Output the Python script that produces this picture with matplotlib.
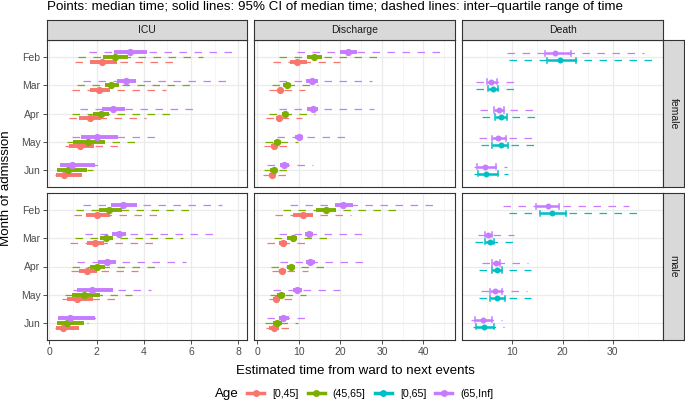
import matplotlib
matplotlib.use("Agg")
import matplotlib.pyplot as plt
from matplotlib.lines import Line2D

plt.rcParams["font.family"] = ["Liberation Sans", "DejaVu Sans"]

months = ["Feb", "Mar", "Apr", "May", "Jun"]
events = ["ICU", "Discharge", "Death"]
sexes = ["female", "male"]
age_groups = ["[0,45]", "(45,65]", "[0,65]", "(65,Inf]"]
age_colors = ["#F8766D", "#7CAE00", "#00BFC4", "#C77CFF"]

# rows per month: (median, ci_lo, ci_hi, q1, q3)
icu_female = {
    "[0,45]": [(2.21, 1.72, 2.85, 1.09, 5.22), (2.12, 1.72, 2.57, 0.95, 4.96), (1.73, 1.27, 2.17, 0.85, 4.09),
               (1.30, 0.85, 1.89, 0.66, 3.06), (0.62, 0.28, 1.37, 0.24, 1.44)],
    "(45,65]": [(2.78, 2.26, 3.34, 1.23, 6.52), (2.62, 2.36, 2.96, 1.18, 6.19), (2.17, 1.86, 2.54, 0.97, 5.11),
                (1.62, 1.02, 2.36, 0.73, 3.81), (0.79, 0.34, 1.58, 0.34, 1.83)],
    "(65,Inf]": [(3.41, 2.74, 4.15, 1.69, 8.04), (3.24, 2.88, 3.67, 1.44, 7.64), (2.68, 2.21, 3.20, 1.30, 6.30),
                 (2.00, 1.33, 2.92, 0.97, 4.68), (0.96, 0.45, 1.93, 0.45, 2.26)],
}
discharge_female = {
    "[0,45]": [(9.5, 7.9, 11.9, 3.7, 19.8), (5.5, 5.1, 6.1, 2.7, 11.5), (5.1, 4.5, 5.9, 2.1, 10.7),
               (3.9, 3.2, 4.7, 1.6, 7.9), (3.6, 2.9, 4.3, 1.4, 7.5)],
    "(45,65]": [(13.7, 12.0, 15.5, 5.3, 28.8), (7.1, 6.3, 8.0, 3.5, 14.7), (6.7, 5.9, 7.5, 2.7, 13.9),
                (4.8, 4.0, 5.6, 1.8, 9.9), (3.9, 3.1, 4.8, 1.6, 8.3)],
    "(65,Inf]": [(21.9, 19.8, 24.1, 9.5, 45.6), (13.2, 11.7, 14.7, 5.3, 27.6), (13.5, 12.0, 14.7, 5.3, 28.1),
                 (10.1, 9.1, 11.1, 4.8, 21.1), (6.5, 5.5, 7.7, 2.4, 13.5)],
}
death_female = {
    "[0,65]": [(19.6, 17.0, 22.7, 9.3, 38.1), (6.1, 5.2, 7.1, 2.7, 11.8), (7.7, 6.6, 8.9, 3.9, 15.1),
               (7.7, 6.0, 9.1, 3.8, 15.0), (4.7, 3.1, 7.1, 2.3, 9.2)],
    "(65,Inf]": [(18.6, 16.5, 21.7, 8.9, 36.3), (5.8, 4.9, 6.9, 2.7, 11.2), (7.4, 6.4, 8.4, 3.6, 14.4),
                 (7.2, 5.9, 8.7, 3.4, 14.2), (4.5, 2.9, 6.7, 2.3, 8.9)],
}
icu_male = {
    "[0,45]": [(2.03, 1.55, 2.57, 1.06, 4.75), (1.93, 1.58, 2.31, 0.87, 4.54), (1.58, 1.27, 2.00, 0.90, 3.77),
               (1.18, 0.76, 1.86, 0.52, 2.78), (0.56, 0.28, 1.27, 0.24, 1.33)],
    "(45,65]": [(2.54, 2.12, 3.06, 1.13, 5.95), (2.40, 2.14, 2.68, 1.09, 5.67), (2.00, 1.72, 2.36, 0.97, 4.68),
                (1.47, 0.94, 2.14, 0.66, 3.48), (0.73, 0.34, 1.47, 0.31, 1.65)],
    "(65,Inf]": [(3.13, 2.60, 3.72, 1.44, 7.33), (2.96, 2.64, 3.24, 1.51, 6.97), (2.45, 2.07, 2.82, 1.18, 5.78),
                 (1.81, 1.18, 2.68, 1.02, 4.29), (0.87, 0.38, 1.93, 0.38, 2.03)],
}
discharge_male = {
    "[0,45]": [(10.9, 8.5, 13.3, 4.3, 22.5), (6.3, 5.3, 7.2, 2.4, 13.1), (5.9, 5.1, 6.9, 3.5, 12.3),
               (4.5, 3.7, 5.3, 2.9, 9.1), (4.0, 2.9, 5.1, 2.2, 8.3)],
    "(45,65]": [(16.5, 14.1, 19.0, 6.3, 34.4), (8.5, 7.2, 9.5, 3.9, 17.5), (8.0, 7.1, 9.1, 3.2, 16.7),
                (5.7, 4.8, 6.7, 3.1, 11.7), (4.7, 3.7, 5.9, 1.8, 9.9)],
    "(65,Inf]": [(20.7, 18.7, 23.1, 7.9, 43.2), (12.5, 11.5, 13.5, 5.1, 25.9), (12.7, 11.7, 13.9, 5.5, 26.3),
                 (9.6, 8.7, 10.7, 3.7, 19.9), (6.1, 5.1, 7.7, 2.4, 12.9)],
}
death_male = {
    "[0,65]": [(17.9, 15.5, 20.6, 9.3, 35.0), (5.6, 4.6, 6.4, 2.6, 10.9), (7.0, 6.0, 8.0, 3.4, 13.8),
               (7.0, 5.6, 8.5, 3.4, 13.7), (4.4, 2.7, 6.4, 2.1, 8.4)],
    "(65,Inf]": [(17.1, 14.8, 19.4, 8.2, 33.3), (5.2, 4.5, 6.0, 3.1, 10.4), (6.7, 5.9, 7.6, 3.9, 13.2),
                 (6.6, 5.6, 8.0, 3.8, 13.0), (4.1, 2.6, 6.0, 1.8, 8.0)],
}

panels = {
    ("female", "ICU"): icu_female, ("female", "Discharge"): discharge_female, ("female", "Death"): death_female,
    ("male", "ICU"): icu_male, ("male", "Discharge"): discharge_male, ("male", "Death"): death_male,
}
x_limits = {"ICU": (-0.1, 8.37), "Discharge": (-0.8, 47.6), "Death": (0.0, 40.0)}
x_major = {"ICU": [0, 2, 4, 6, 8], "Discharge": [0, 10, 20, 30, 40], "Death": [10, 20, 30]}
x_minor = {"ICU": [1, 3, 5, 7], "Discharge": [5, 15, 25, 35, 45], "Death": [5, 15, 25, 35]}

W, H = 685, 403
DARK = "#333333"
TITLE_FS = 9.6
TICK_FS = 7.5
col_px = [(47, 247), (254, 455), (462, 663)]
row_px = [(40, 187), (193, 340)]


def px_rect(x0, y0, x1, y1):
    return [x0 / W, 1 - y1 / H, (x1 - x0) / W, (y1 - y0) / H]


def strip(rect, text, rotation=0):
    sax = fig.add_axes(rect)
    sax.set_xticks([])
    sax.set_yticks([])
    sax.set_facecolor("#D9D9D9")
    for s in sax.spines.values():
        s.set_color(DARK)
        s.set_linewidth(0.8)
    sax.text(0.5, 0.5, text, ha="center", va="center", rotation=rotation,
             fontsize=TICK_FS, color="#1A1A1A", transform=sax.transAxes)


fig = plt.figure(figsize=(W / 100, H / 100), dpi=100)

for r, sex in enumerate(sexes):
    for c, ev in enumerate(events):
        x0, x1 = col_px[c]
        y0, y1 = row_px[r]
        ax = fig.add_axes(px_rect(x0, y0, x1, y1))
        ax.set_xlim(*x_limits[ev])
        ax.set_ylim(4.6, -0.6)
        ax.set_xticks(x_major[ev])
        ax.set_xticks(x_minor[ev], minor=True)
        ax.set_yticks(range(len(months)))
        ax.grid(True, which="major", color="#EBEBEB", lw=0.9)
        ax.grid(True, which="minor", axis="x", color="#F2F2F2", lw=0.5)
        ax.set_axisbelow(True)
        for s in ax.spines.values():
            s.set_color(DARK)
            s.set_linewidth(0.8)
        ax.tick_params(which="major", length=2.75, width=0.6, color=DARK,
                       labelsize=TICK_FS, labelcolor="#4D4D4D", pad=2)
        ax.tick_params(which="minor", length=0)
        if r == 1:
            ax.set_xticklabels([str(t) for t in x_major[ev]])
        else:
            ax.tick_params(axis="x", which="major", length=0, labelbottom=False)
        if c == 0:
            ax.set_yticklabels(months)
        else:
            ax.tick_params(axis="y", length=0, labelleft=False)

        data = panels[(sex, ev)]
        groups = list(data.keys())
        n = len(groups)
        width = 0.5
        death = ev == "Death"
        for gi, grp in enumerate(groups):
            color = age_colors[age_groups.index(grp)]
            off = (n - 1 - gi) * width / n - width * (n - 1) / (2 * n)
            for m, (med, lo, hi, q1, q3) in enumerate(data[grp]):
                y = m + off
                ax.plot([q1, q3], [y, y], color=color, lw=0.9, ls=(0, (6.0, 6.0)),
                        solid_capstyle="butt")
                if death:
                    ax.plot([lo, hi], [y, y], color=color, lw=1.8, solid_capstyle="butt")
                    ax.plot([lo, lo], [y - 0.09, y + 0.09], color=color, lw=1.1)
                    ax.plot([hi, hi], [y - 0.09, y + 0.09], color=color, lw=1.1)
                    ax.plot(med, y, "o", color=color, ms=4.3, mec="none")
                else:
                    ax.plot([lo, hi], [y, y], color=color, lw=2.8, solid_capstyle="butt")
                    ax.plot(med, y, "o", color=color, ms=5.2, mec="none")

        if r == 0:
            strip(px_rect(x0, 20, x1, y0), ev)
    strip(px_rect(663, row_px[r][0], 684, row_px[r][1]), sex, rotation=-90)

fig.text(47 / W, 1 - 7 / H, "Points: median time; solid lines: 95% CI of median time; "
         "dashed lines: inter\u2013quartile range of time",
         ha="left", va="center", fontsize=TITLE_FS, color="black")
fig.text(355 / W, 1 - 370.5 / H, "Estimated time from ward to next events",
         ha="center", va="center", fontsize=TITLE_FS)
fig.text(6.5 / W, 1 - 188 / H, "Month of admission", ha="center", va="center",
         rotation=90, fontsize=TITLE_FS)
fig.text(215 / W, 1 - 394 / H, "Age", ha="left", va="center", fontsize=TITLE_FS)

handles = [Line2D([0], [0], color=col, lw=2.5, marker="o", ms=5, mec="none") for col in age_colors]
fig.legend(handles, age_groups, loc="center left", bbox_to_anchor=(247 / W, 1 - 394 / H),
           ncol=4, frameon=False, fontsize=7.7, handlelength=1.6, handletextpad=0.75,
           columnspacing=0.85, borderaxespad=0, borderpad=0)

fig.savefig("out.png", dpi=100)
